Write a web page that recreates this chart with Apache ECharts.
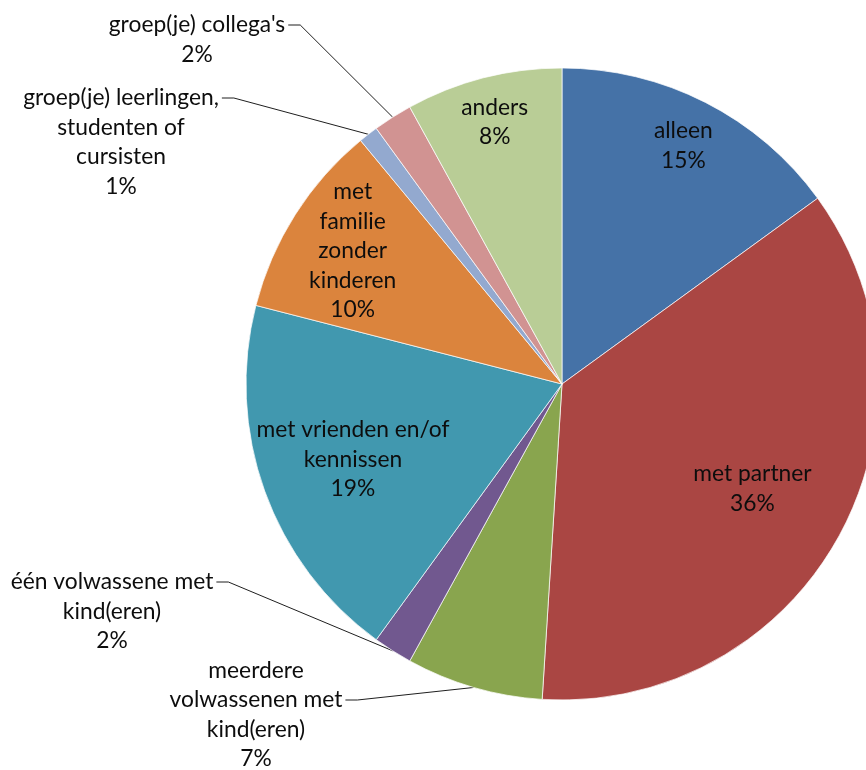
<!DOCTYPE html>
<html>
<head>
<meta charset="utf-8">
<script src="https://cdn.jsdelivr.net/npm/echarts/dist/echarts.min.js"></script>
<style>
  html, body { margin: 0; padding: 0; background: #ffffff; }
  #chart { width: 866px; height: 770px; }
</style>
</head>
<body>
<div id="chart"></div>
<script>
// Categories in clockwise order from 12 o'clock, with their shares (%)
const categories = [
  'alleen',
  'met partner',
  'meerdere volwassenen met kind(eren)',
  'één volwassene met kind(eren)',
  'met vrienden en/of kennissen',
  'met familie zonder kinderen',
  'groep(je) leerlingen, studenten of cursisten',
  "groep(je) collega's",
  'anders'
];
const shares = [15, 36, 7, 2, 19, 10, 1, 2, 8];

// How each category name is wrapped in its label
const wrappedNames = [
  'alleen',
  'met partner',
  'meerdere\nvolwassenen met\nkind(eren)',
  'één volwassene met\nkind(eren)',
  'met vrienden en/of\nkennissen',
  'met\nfamilie\nzonder\nkinderen',
  'groep(je) leerlingen,\nstudenten of\ncursisten',
  "groep(je) collega's",
  'anders'
];

const sliceColors = ['#4572A7', '#AA4643', '#89A54E', '#71588F', '#4198AF', '#DB843D', '#93A9CF', '#D19392', '#B9CD96'];

// Pie geometry and text style
const CX = 562, CY = 384, R = 316;
const FONT_SIZE = 22.8, LINE_H = 29.5, FONT_FAMILY = 'Lato, sans-serif';

// Labels drawn inside their slice: distance from the centre as a fraction of the radius
const insideRadius = { 0: 0.83, 1: 0.675, 4: 0.69, 5: 0.77, 8: 0.84 };
// Labels drawn outside: centre x of the text block, centre y of the line the leader joins, and that line's index
const outsideSpots = {
  2: { x: 256, y: 700, line: 1 },
  3: { x: 112, y: 582, line: 0 },
  6: { x: 121, y: 98,  line: 0 },
  7: { x: 197, y: 25,  line: 0 }
};

const measureCtx = document.createElement('canvas').getContext('2d');
measureCtx.font = FONT_SIZE + 'px ' + FONT_FAMILY;

const total = shares.reduce((a, b) => a + b, 0);
function edgePoint(i) {
  let before = 0;
  for (let k = 0; k < i; k++) before += shares[k];
  const mid = (before + shares[i] / 2) / total * Math.PI * 2;
  return [CX + R * Math.sin(mid), CY - R * Math.cos(mid)];
}

function labelText(i, pct) {
  return wrappedNames[i] + '\n' + Math.round(pct) + '%';
}

function placeLabel(p) {
  const i = p.dataIndex;
  if (insideRadius[i] != null) {
    const lr = p.labelRect;
    const mx = lr.x + lr.width / 2, my = lr.y + lr.height / 2;
    const s = 2 * insideRadius[i];
    return { x: CX + (mx - CX) * s, y: CY + (my - CY) * s, align: 'center', verticalAlign: 'middle' };
  }
  const spot = outsideSpots[i];
  if (!spot) return {};
  const lines = wrappedNames[i].split('\n');
  const w = measureCtx.measureText(lines[spot.line]).width;
  const top = spot.y - LINE_H / 2 - spot.line * LINE_H;
  const endX = spot.x + w / 2 + 3;
  const elbowX = endX + 12;
  const start = (p.labelLinePoints && p.labelLinePoints[0]) || edgePoint(i);
  return {
    x: spot.x, y: top, align: 'center', verticalAlign: 'top',
    labelLinePoints: [start, [elbowX, spot.y], [endX, spot.y]]
  };
}

const chart = echarts.init(document.getElementById('chart'), null, { renderer: 'canvas' });

chart.setOption({
  animation: false,
  backgroundColor: '#ffffff',
  series: [{
    type: 'pie',
    center: [CX, CY],
    radius: [0, R],
    startAngle: 90,
    clockwise: true,
    avoidLabelOverlap: false,
    minShowLabelAngle: 0,
    percentPrecision: 0,
    itemStyle: { borderColor: 'rgba(255,255,255,0.7)', borderWidth: 1 },
    label: {
      fontFamily: FONT_FAMILY,
      fontSize: FONT_SIZE,
      lineHeight: LINE_H,
      color: '#0d0d0d',
      formatter: p => labelText(p.dataIndex, p.percent)
    },
    labelLine: { lineStyle: { color: '#1f1f1f', width: 1 }, length: 20, length2: 12 },
    labelLayout: placeLabel,
    emphasis: { disabled: true },
    data: shares.map((v, i) => ({
      name: categories[i],
      value: v,
      itemStyle: { color: sliceColors[i] },
      label: { position: insideRadius[i] != null ? 'inside' : 'outside' },
      labelLine: { show: insideRadius[i] == null }
    }))
  }]
});
</script>
</body>
</html>
